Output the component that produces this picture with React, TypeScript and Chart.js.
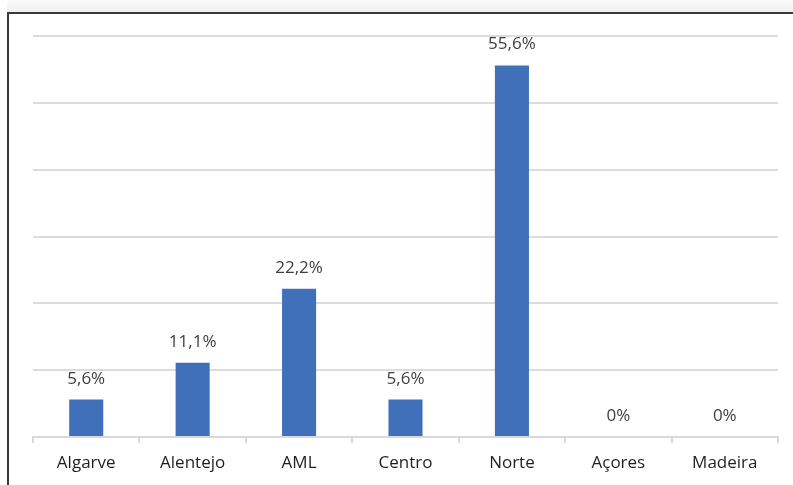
import React, { useEffect, useRef } from 'react';
import { Chart, registerables } from 'chart.js';

Chart.register(...registerables);

const categories = ['Algarve', 'Alentejo', 'AML', 'Centro', 'Norte', 'Açores', 'Madeira'];
const values = [5.6, 11.1, 22.2, 5.6, 55.6, 0, 0];
const valueLabels = ['5,6%', '11,1%', '22,2%', '5,6%', '55,6%', '0%', '0%'];
const yMin = 0;
const yMax = 60;
const yStep = 10;

const FONT = '"Open Sans", "Noto Sans", sans-serif';

const labelPlugin = {
  id: 'valueLabels',
  afterDatasetsDraw(chart: any) {
    const ctx = chart.ctx;
    const meta = chart.getDatasetMeta(0);
    ctx.save();
    ctx.font = `17px ${FONT}`;
    ctx.fillStyle = '#404040';
    ctx.textAlign = 'center';
    ctx.textBaseline = 'alphabetic';
    meta.data.forEach((bar: any, i: number) => {
      ctx.fillText(valueLabels[i], bar.x, bar.y - 16);
    });
    ctx.restore();
  },
};

export default function App() {
  const ref = useRef<HTMLCanvasElement>(null);
  useEffect(() => {
    if (!ref.current) return;
    const chart = new Chart(ref.current, {
      type: 'bar',
      data: {
        labels: categories,
        datasets: [
          {
            data: values,
            backgroundColor: '#4070BA',
            barPercentage: 0.32,
            categoryPercentage: 1,
          },
        ],
      },
      options: {
        responsive: false,
        animation: false,
        layout: { padding: { left: 33, right: 15, top: 36, bottom: 0 } },
        plugins: { legend: { display: false }, tooltip: { enabled: false } },
        scales: {
          x: {
            afterFit: (scale: any) => {
              scale.height = 48;
            },
            grid: {
              offset: true,
              drawOnChartArea: false,
              drawTicks: true,
              tickLength: 6,
              color: '#d9d9d9',
              lineWidth: 2,
            },
            border: { display: true, color: '#d9d9d9', width: 2 },
            ticks: { color: '#1f1f1f', font: { family: FONT, size: 17 }, padding: 10 },
          },
          y: {
            min: yMin,
            max: yMax,
            ticks: { display: false, stepSize: yStep },
            grid: { drawTicks: false, color: '#dcdcdc', lineWidth: 2 },
            border: { display: false },
          },
        },
      },
      plugins: [labelPlugin],
    });
    return () => chart.destroy();
  }, []);
  return (
    <div style={{ position: 'absolute', left: 0, top: 0, width: 793, height: 485, background: '#fff', overflow: 'hidden' }}>
      <div style={{ position: 'absolute', left: 0, top: 0, width: 793, height: 13, background: 'linear-gradient(to bottom, #fbfbfb, #efefef)' }} />
      <div style={{ position: 'absolute', left: 0, top: 0, width: 7, height: 485, background: '#fff' }} />
      <canvas ref={ref} width={793} height={485} style={{ position: 'absolute', left: 0, top: 0 }} />
      <div style={{ position: 'absolute', left: 7, top: 12, width: 800, height: 480, borderTop: '2px solid #3a3a3a', borderLeft: '2px solid #3a3a3a' }} />
    </div>
  );
}
